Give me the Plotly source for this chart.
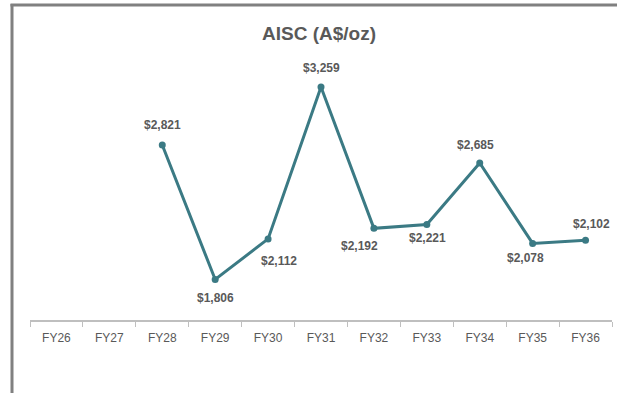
import plotly.graph_objects as go

W, H = 617, 393

years = ["FY26", "FY27", "FY28", "FY29", "FY30", "FY31", "FY32", "FY33", "FY34", "FY35", "FY36"]
aisc = [None, None, 2821, 1806, 2112, 3259, 2192, 2221, 2685, 2078, 2102]

# label offsets in pixels (x, y-up) relative to each point
label_shift = {
    "FY28": (0, 20), "FY29": (0, -19), "FY30": (11, -22), "FY31": (0, 19),
    "FY32": (-14, -18), "FY33": (1, -14), "FY34": (-4, 18), "FY35": (-7, -15),
    "FY36": (6, 16),
}

LINE = "#3b7a84"
TEXT = "#595959"
FONT = "Liberation Sans, Arial"

fig = go.Figure()
fig.add_trace(go.Scatter(
    x=years, y=aisc,
    mode="lines+markers",
    line=dict(color=LINE, width=3),
    marker=dict(color=LINE, size=7),
    connectgaps=False,
    cliponaxis=False,
    hoverinfo="x+y",
))

annotations = []
for yr, v in zip(years, aisc):
    if v is None:
        continue
    dx, dy = label_shift[yr]
    annotations.append(dict(
        x=yr, y=v, xref="x", yref="y", text=f"<b>${v:,}</b>",
        showarrow=False, xanchor="center", yanchor="middle",
        xshift=dx, yshift=dy,
        font=dict(family=FONT, size=12, color=TEXT),
    ))

annotations.append(dict(
    text="<b>AISC (A$/oz)</b>",
    x=319 / W, y=1 - 33 / H, xref="paper", yref="paper",
    xanchor="center", yanchor="middle", showarrow=False,
    font=dict(family=FONT, size=19, color=TEXT),
))

# plot area placed in paper coordinates of the full figure
x0, x1 = 30, 612
y_top, y_bot = 55, 320

fig.update_layout(
    width=W, height=H,
    margin=dict(l=0, r=0, t=0, b=0),
    paper_bgcolor="white", plot_bgcolor="white",
    showlegend=False,
    xaxis=dict(
        domain=[x0 / W, x1 / W],
        type="category",
        range=[-0.5, 10.5],
        showline=True, linecolor="#bfbfbf", linewidth=1.5,
        ticks="outside", tickson="boundaries", ticklen=5, tickcolor="#bfbfbf",
        tickfont=dict(family=FONT, size=12, color=TEXT),
        ticklabelstandoff=6,
        showgrid=False, zeroline=False,
        fixedrange=True,
    ),
    yaxis=dict(
        domain=[1 - y_bot / H, 1 - y_top / H],
        range=[1500, 3500],
        visible=False,
        showgrid=False, zeroline=False,
        fixedrange=True,
    ),
    annotations=annotations,
    shapes=[
        dict(type="line", xref="paper", yref="paper",
             x0=12 / W, x1=12 / W, y0=0, y1=1 - 4 / H,
             line=dict(color="#808080", width=3)),
        dict(type="line", xref="paper", yref="paper",
             x0=10.5 / W, x1=1, y0=1 - 5 / H, y1=1 - 5 / H,
             line=dict(color="#808080", width=3)),
    ],
)

fig.write_html("out.html")
